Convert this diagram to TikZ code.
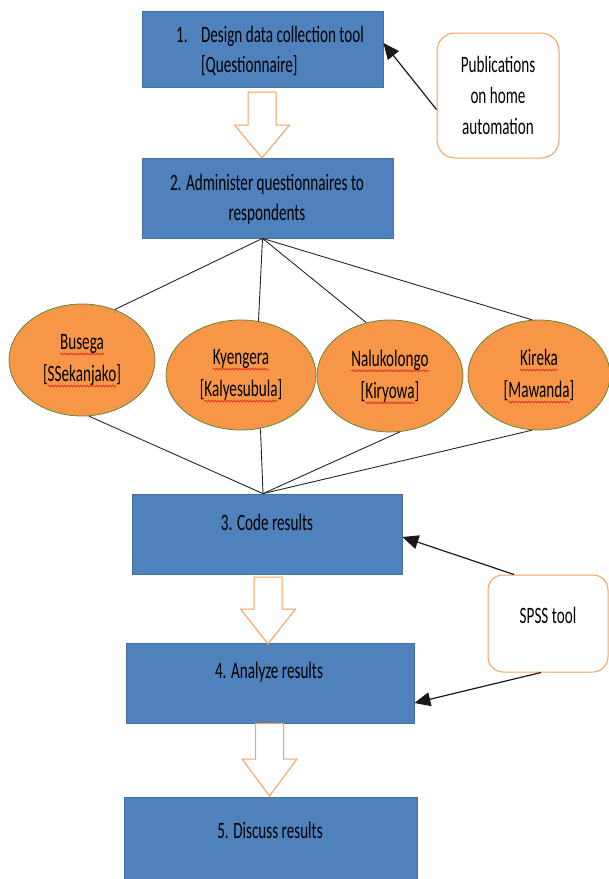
\documentclass[tikz,border=0pt]{standalone}
\usepackage{fontspec}
\setmainfont{Carlito}[FakeStretch=0.645]
\usetikzlibrary{arrows.meta,calc,shapes.geometric,decorations.pathmorphing}
\definecolor{boxblue}{RGB}{79,129,189}
\definecolor{boxborder}{RGB}{65,113,156}
\definecolor{ellorange}{RGB}{247,150,70}
\definecolor{ellborder}{RGB}{95,135,55}
\definecolor{softorange}{RGB}{245,160,90}
\definecolor{spellred}{RGB}{225,30,30}
\newlength\sperrw
\newcommand\sperr[1]{\settowidth\sperrw{#1}\rlap{\tikz[overlay,x=1pt,y=1pt,baseline=0pt]\draw[spellred,line width=0.6pt,decorate,decoration={snake,segment length=3.2pt,amplitude=0.9pt}] (0pt,-4.5pt) -- (\the\sperrw,-4.5pt);}#1}
\begin{document}
\begin{tikzpicture}[x=1pt,y=-1pt,
  box/.style={rectangle, draw=boxborder, fill=boxblue, line width=0.8pt, inner sep=0pt},
  txt/.style={font=\fontsize{23.5}{30}\selectfont, text=black, inner sep=0pt, align=center},
  ell/.style={ellipse, draw=ellborder, fill=ellorange, line width=0.8pt, inner sep=0pt,
              font=\fontsize{23.5}{32}\selectfont, align=center, text=black},
  note/.style={rectangle, draw=softorange, fill=white, line width=1pt, inner sep=0pt,
               font=\fontsize{23.5}{31}\selectfont, align=center, text=black},
  hollow/.style={draw=softorange, fill=white, line width=1pt, line join=miter},
  fan/.style={draw=black!85, line width=0.9pt},
  arr/.style={-{Triangle[length=16pt,width=14pt]}, draw=black!90, line width=1.2pt}]
\useasboundingbox (0,0) rectangle (609,879);

% main process boxes
\node[box, minimum width=241pt, minimum height=76pt] (b1) at (262.5,49) {};
\node[txt, align=left] (t1) at (270,51) {\makebox[25pt][l]{1.}Design data collection tool\\\hspace*{25pt}[Questionnaire]};

\node[box, minimum width=251pt, minimum height=80pt] (b2) at (267.5,198) {};
\node[txt] (t2) at (267,199) {2. Administer questionnaires to\\respondents};

\node[box, minimum width=270pt, minimum height=80pt] (b3) at (267,534) {};
\node[txt] (t3) at (267,522) {3. Code results};

\node[box, minimum width=288pt, minimum height=80pt] (b4) at (270,683) {};
\node[txt] (t4) at (269,672) {4. Analyze results};

\node[box, minimum width=293pt, minimum height=90pt] (b5) at (270.5,842) {};
\node[txt] (t5) at (270,830) {5. Discuss results};

% side notes
\node[note, rounded corners=18pt, minimum width=122pt, minimum height=125pt] (pub) at (498,95.5)
  {Publications\\on home\\automation};
\node[note, rounded corners=15pt, minimum width=120pt, minimum height=97pt] (spss) at (548,623.5) {};
\node[txt] (ts) at (548,615) {SPSS tool};

% sites
\node[ell, minimum width=146pt, minimum height=112pt] (bus) at (82,360)
  {\sperr{Busega}\\{[}\sperr{SSekanjako}{]}};
\node[ell, minimum width=150pt, minimum height=110pt] (kye) at (241,375)
  {\sperr{Kyengera}\\{[}\sperr{Kalyesubula}{]}};
\node[ell, minimum width=146pt, minimum height=112pt] (nal) at (390,376)
  {\sperr{Nalukolongo}\\{[}\sperr{Kiryowa}{]}};
\node[ell, minimum width=142pt, minimum height=110pt] (kir) at (539,375)
  {\sperr{Kireka}\\{[}\sperr{Mawanda}{]}};

% block arrows
\draw[hollow] (248,92) -- (276,92) -- (276,125) -- (289.5,125) -- (262,158)
  -- (234.5,125) -- (248,125) -- cycle;
\draw[hollow] (254,577) -- (282,577) -- (282,609) -- (295.5,609) -- (268,644)
  -- (240.5,609) -- (254,609) -- cycle;
\draw[hollow] (255.5,723.5) -- (283.5,723.5) -- (283.5,759) -- (297,759) -- (269.5,796)
  -- (242,759) -- (255.5,759) -- cycle;

% fan connectors
\coordinate (apexA) at ([xshift=-5pt]b2.south);
\coordinate (apexB) at ([xshift=-4pt]b3.north);
\draw[fan] (apexA) -- (bus.57);
\draw[fan] (apexA) -- (kye.72);
\draw[fan] (apexA) -- (nal.114);
\draw[fan] (apexA) -- (kir.97);
\draw[fan] (bus.-83) -- (apexB);
\draw[fan] (kye.-70) -- (apexB);
\draw[fan] (nal.-80) -- (apexB);
\draw[fan] (kir.-97) -- (apexB);

% input arrows
\draw[arr] ([yshift=-14pt]pub.west) -- ([yshift=6pt]b1.east);
\draw[arr] ([xshift=-34pt]spss.north) -- ([yshift=-3pt]b3.east);
\draw[arr] ([xshift=-7pt]spss.south) -- ([yshift=-20pt]b4.east);
\end{tikzpicture}
\end{document}
